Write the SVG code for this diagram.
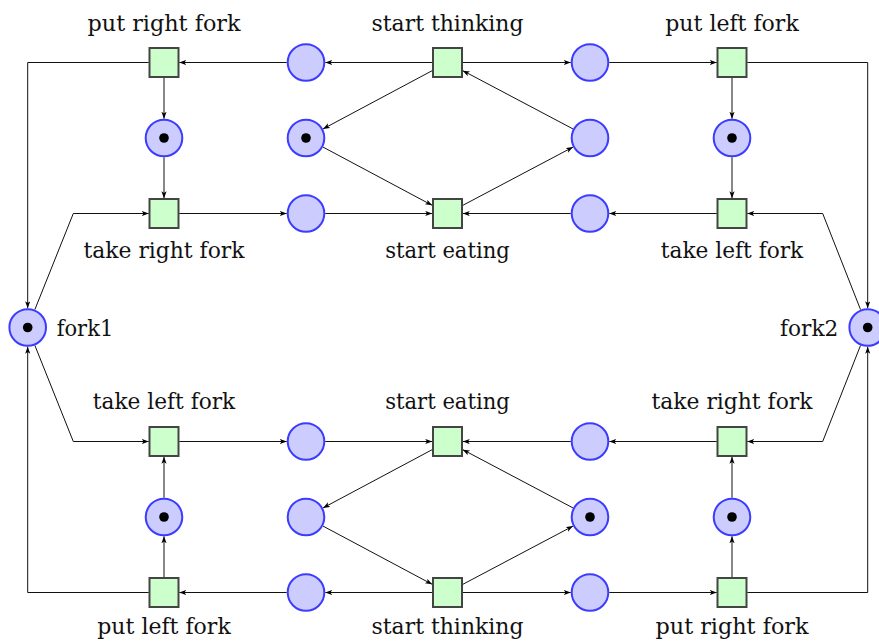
<svg xmlns="http://www.w3.org/2000/svg" width="879" height="642" viewBox="0 0 879 642">
<style>
.t{fill:#ccffcc;stroke:#444444;stroke-width:2}
.p{fill:#ccccff;stroke:#3c3cff;stroke-width:2}
.k{fill:#000}
.e{fill:none;stroke:#111;stroke-width:1}
text{font-family:"DejaVu Serif","Liberation Serif",serif;font-size:22px;fill:#111;text-anchor:middle}
</style>
<defs>
<marker id="ah" markerUnits="userSpaceOnUse" markerWidth="9" markerHeight="7" refX="7" refY="2.6" orient="auto">
<path d="M0,0 L7,2.6 L0,5.2 L1.7,2.6 Z" fill="#000"/>
</marker>
</defs>
<rect width="879" height="642" fill="#fff"/>
<g id="connectors">
<path class="e" d="M432.25,62.5 H325.25" marker-end="url(#ah)"/>
<path class="e" d="M286.75,62.5 H179.25" marker-end="url(#ah)"/>
<path class="e" d="M462.75,62.5 H570.75" marker-end="url(#ah)"/>
<path class="e" d="M609.25,62.5 H716.75" marker-end="url(#ah)"/>
<path class="e" d="M179.25,213.5 H286.75" marker-end="url(#ah)"/>
<path class="e" d="M325.25,213.5 H432.25" marker-end="url(#ah)"/>
<path class="e" d="M716.75,213.5 H609.25" marker-end="url(#ah)"/>
<path class="e" d="M570.75,213.5 H462.75" marker-end="url(#ah)"/>
<path class="e" d="M432.25,70.64 L323,128.93" marker-end="url(#ah)"/>
<path class="e" d="M323,147.07 L432.25,205.36" marker-end="url(#ah)"/>
<path class="e" d="M462.75,205.36 L573,147.07" marker-end="url(#ah)"/>
<path class="e" d="M573,128.93 L462.75,70.64" marker-end="url(#ah)"/>
<path class="e" d="M164,77.75 V118.75" marker-end="url(#ah)"/>
<path class="e" d="M164,157.25 V198.25" marker-end="url(#ah)"/>
<path class="e" d="M732,77.75 V118.75" marker-end="url(#ah)"/>
<path class="e" d="M732,157.25 V198.25" marker-end="url(#ah)"/>
<path class="e" d="M179.25,441.5 H286.75" marker-end="url(#ah)"/>
<path class="e" d="M325.25,441.5 H432.25" marker-end="url(#ah)"/>
<path class="e" d="M716.75,441.5 H609.25" marker-end="url(#ah)"/>
<path class="e" d="M570.75,441.5 H462.75" marker-end="url(#ah)"/>
<path class="e" d="M432.25,592.5 H325.25" marker-end="url(#ah)"/>
<path class="e" d="M286.75,592.5 H179.25" marker-end="url(#ah)"/>
<path class="e" d="M462.75,592.5 H570.75" marker-end="url(#ah)"/>
<path class="e" d="M609.25,592.5 H716.75" marker-end="url(#ah)"/>
<path class="e" d="M432.25,449.64 L323,507.93" marker-end="url(#ah)"/>
<path class="e" d="M323,526.07 L432.25,584.36" marker-end="url(#ah)"/>
<path class="e" d="M462.75,584.36 L573,526.07" marker-end="url(#ah)"/>
<path class="e" d="M573,507.93 L462.75,449.64" marker-end="url(#ah)"/>
<path class="e" d="M164,577.25 V536.25" marker-end="url(#ah)"/>
<path class="e" d="M164,497.75 V456.75" marker-end="url(#ah)"/>
<path class="e" d="M732,577.25 V536.25" marker-end="url(#ah)"/>
<path class="e" d="M732,497.75 V456.75" marker-end="url(#ah)"/>
<path class="e" d="M148.75,62.5 H27.7 V308.25" marker-end="url(#ah)"/>
<path class="e" d="M148.75,592.5 H27.7 V346.75" marker-end="url(#ah)"/>
<path class="e" d="M747.25,62.5 H867.7 V308.25" marker-end="url(#ah)"/>
<path class="e" d="M747.25,592.5 H867.7 V346.75" marker-end="url(#ah)"/>
<path class="e" d="M34.85,309.63 L73.3,213.5 H148.75" marker-end="url(#ah)"/>
<path class="e" d="M34.85,345.37 L73.3,441.5 H148.75" marker-end="url(#ah)"/>
<path class="e" d="M860.55,309.63 L822.7,213.5 H747.25" marker-end="url(#ah)"/>
<path class="e" d="M860.55,345.37 L822.7,441.5 H747.25" marker-end="url(#ah)"/>
</g>
<g id="fork1"><circle class="p" cx="27.7" cy="327.5" r="18.3"/><circle class="k" cx="27.7" cy="327.5" r="4.8"/><text x="85" y="335.7" textLength="56.6" lengthAdjust="spacingAndGlyphs">fork1</text></g>
<g id="fork2"><circle class="p" cx="867.7" cy="327.5" r="18.3"/><circle class="k" cx="867.7" cy="327.5" r="4.8"/><text x="809.2" y="335.7" textLength="58.3" lengthAdjust="spacingAndGlyphs">fork2</text></g>
<g id="p_a1"><circle class="p" cx="306" cy="62.5" r="18.3"/></g>
<g id="p_a2"><circle class="p" cx="590" cy="62.5" r="18.3"/></g>
<g id="p_b0"><circle class="p" cx="164" cy="138" r="18.3"/><circle class="k" cx="164" cy="138" r="4.8"/></g>
<g id="p_b1"><circle class="p" cx="306" cy="138" r="18.3"/><circle class="k" cx="306" cy="138" r="4.8"/></g>
<g id="p_b2"><circle class="p" cx="590" cy="138" r="18.3"/></g>
<g id="p_b3"><circle class="p" cx="732" cy="138" r="18.3"/><circle class="k" cx="732" cy="138" r="4.8"/></g>
<g id="p_c1"><circle class="p" cx="306" cy="213.5" r="18.3"/></g>
<g id="p_c2"><circle class="p" cx="590" cy="213.5" r="18.3"/></g>
<g id="p_d1"><circle class="p" cx="306" cy="441.5" r="18.3"/></g>
<g id="p_d2"><circle class="p" cx="590" cy="441.5" r="18.3"/></g>
<g id="p_e0"><circle class="p" cx="164" cy="517" r="18.3"/><circle class="k" cx="164" cy="517" r="4.8"/></g>
<g id="p_e1"><circle class="p" cx="306" cy="517" r="18.3"/></g>
<g id="p_e2"><circle class="p" cx="590" cy="517" r="18.3"/><circle class="k" cx="590" cy="517" r="4.8"/></g>
<g id="p_e3"><circle class="p" cx="732" cy="517" r="18.3"/><circle class="k" cx="732" cy="517" r="4.8"/></g>
<g id="p_f1"><circle class="p" cx="306" cy="592.5" r="18.3"/></g>
<g id="p_f2"><circle class="p" cx="590" cy="592.5" r="18.3"/></g>
<g id="t_put_right_fork_1"><rect class="t" x="149.5" y="48" width="29" height="29"/><text x="164" y="31" textLength="153" lengthAdjust="spacingAndGlyphs">put right fork</text></g>
<g id="t_start_thinking_1"><rect class="t" x="433" y="48" width="29" height="29"/><text x="447.5" y="31" textLength="152" lengthAdjust="spacingAndGlyphs">start thinking</text></g>
<g id="t_put_left_fork_1"><rect class="t" x="717.5" y="48" width="29" height="29"/><text x="732" y="31" textLength="133.5" lengthAdjust="spacingAndGlyphs">put left fork</text></g>
<g id="t_take_right_fork_1"><rect class="t" x="149.5" y="199" width="29" height="29"/><text x="164" y="257.5" textLength="161" lengthAdjust="spacingAndGlyphs">take right fork</text></g>
<g id="t_start_eating_1"><rect class="t" x="433" y="199" width="29" height="29"/><text x="447.5" y="257.5" textLength="124.5" lengthAdjust="spacingAndGlyphs">start eating</text></g>
<g id="t_take_left_fork_1"><rect class="t" x="717.5" y="199" width="29" height="29"/><text x="732" y="257.5" textLength="142.5" lengthAdjust="spacingAndGlyphs">take left fork</text></g>
<g id="t_take_left_fork_2"><rect class="t" x="149.5" y="427" width="29" height="29"/><text x="164" y="409" textLength="142.5" lengthAdjust="spacingAndGlyphs">take left fork</text></g>
<g id="t_start_eating_2"><rect class="t" x="433" y="427" width="29" height="29"/><text x="447.5" y="409" textLength="124.5" lengthAdjust="spacingAndGlyphs">start eating</text></g>
<g id="t_take_right_fork_2"><rect class="t" x="717.5" y="427" width="29" height="29"/><text x="732" y="409" textLength="161" lengthAdjust="spacingAndGlyphs">take right fork</text></g>
<g id="t_put_left_fork_2"><rect class="t" x="149.5" y="578" width="29" height="29"/><text x="164" y="634" textLength="133.5" lengthAdjust="spacingAndGlyphs">put left fork</text></g>
<g id="t_start_thinking_2"><rect class="t" x="433" y="578" width="29" height="29"/><text x="447.5" y="634" textLength="152" lengthAdjust="spacingAndGlyphs">start thinking</text></g>
<g id="t_put_right_fork_2"><rect class="t" x="717.5" y="578" width="29" height="29"/><text x="732" y="634" textLength="153" lengthAdjust="spacingAndGlyphs">put right fork</text></g>
</svg>
